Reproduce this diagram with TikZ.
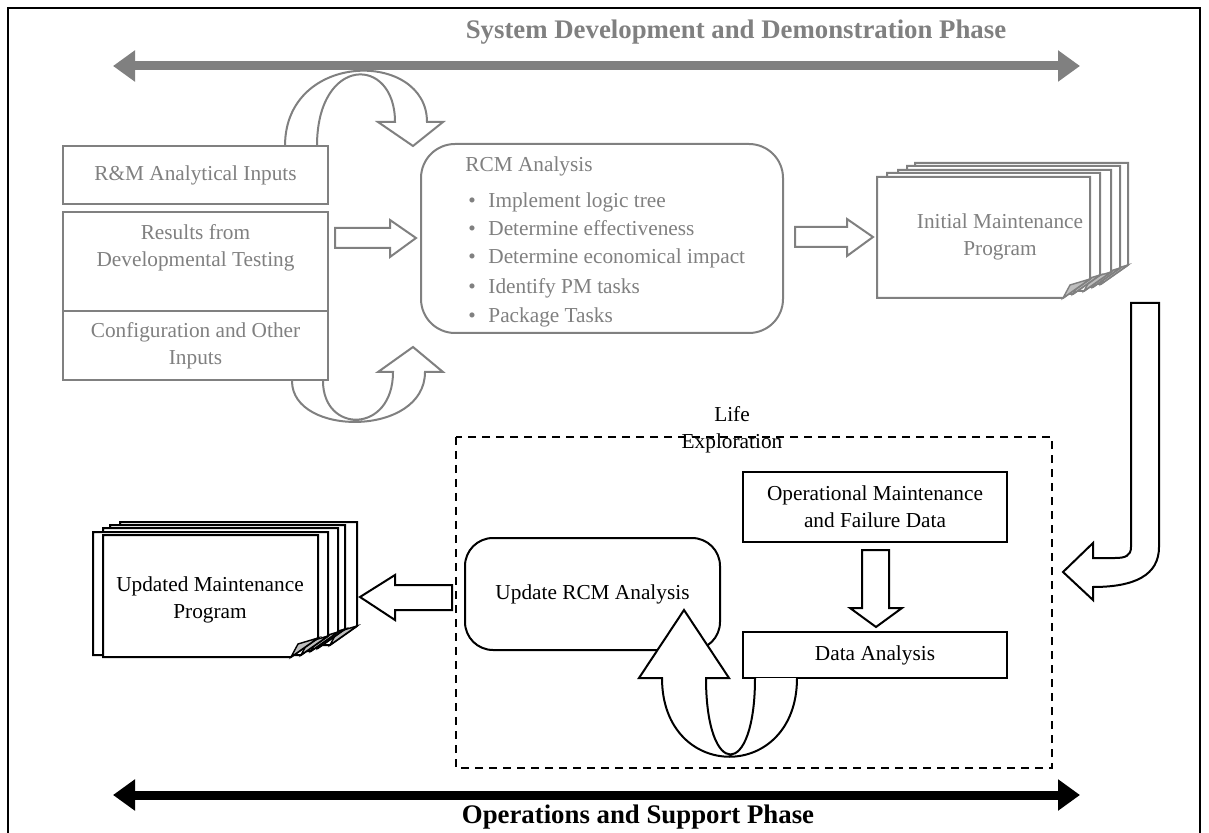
\documentclass[tikz,border=0pt]{standalone}
\usepackage{fontspec}
\setmainfont{Liberation Serif}
\usetikzlibrary{arrows.meta}
\definecolor{gl}{RGB}{128,128,128}
\definecolor{curlc}{RGB}{190,190,190}
\newcommand\nrmsz{\fontsize{10.65}{13.5}\selectfont}
\newcommand\ttlsz{\fontsize{13.4}{16}\selectfont\bfseries}
\newcommand\docpage[5]{%
  \draw[line width=1pt, draw=#5, fill=white] (#1,#2) -- (#3,#2) -- (#3,#4-19) -- (#3-27,#4) -- (#1,#4) -- cycle;
  \draw[line width=0.7pt, draw=#5, fill=curlc] (#3-27,#4) -- (#3,#4-19) -- (#3-20,#4-13) -- cycle;}
\begin{document}
\begin{tikzpicture}[x=0.5pt,y=-0.5pt,
  wh/.style 2 args={minimum width=#1*0.5pt, minimum height=#2*0.5pt, inner sep=0pt},
  gbox/.style={draw=gl, line width=1pt, fill=white, text=gl, font=\nrmsz, align=center},
  bbox/.style={draw=black, line width=1pt, fill=white, text=black, font=\nrmsz, align=center},
  gtext/.style={text=gl, font=\nrmsz, inner sep=0pt, align=center},
  btext/.style={text=black, font=\nrmsz, inner sep=0pt, align=center},
  garrow/.style={draw=gl, line width=1pt, fill=white, line join=miter},
  barrow/.style={draw=black, line width=1pt, fill=white, line join=miter},
  phase/.style={line width=4.5pt, {Triangle[length=11pt,width=15pt]}-{Triangle[length=11pt,width=15pt]}},
  ttl/.style={font=\ttlsz, inner sep=0pt}
]
\useasboundingbox (0,0) rectangle (1209,833);
% frame
\draw[line width=1pt] (8,845) -- (8,8) -- (1200,8) -- (1200,845);

% phase arrows and titles
\node[ttl, text=gl] (t1) at (736,32) {System Development and Demonstration Phase};
\coordinate (p1a) at (113,66); \coordinate (p1b) at (1080,66);
\draw[phase, gl] (p1a) -- (p1b);
\coordinate (p2a) at (113,795); \coordinate (p2b) at (1080,795);
\draw[phase, black] (p2a) -- (p2b);
\node[ttl] (t2) at (638,817) {Operations and Support Phase};

% top curved arrow
\draw[garrow] (285,146) .. controls (285,50) and (427,50) .. (427,122) -- (443,122) -- (413,146) -- (378,122) -- (395,122) .. controls (395,55) and (317,55) .. (317,146);
% bottom curved arrow
\draw[garrow] (292,381) .. controls (292,437) and (425,437) .. (425,372) -- (443,372) -- (413,347) -- (378,372) -- (393,372) .. controls (393,434) and (323,434) .. (323,381);

% left input boxes
\node[gbox, wh={265}{58}] (rm) at (195.5,175) {R\&M Analytical Inputs};
\node[gbox, wh={265}{99}] (res) at (195.5,261.5) {};
\node[gtext] (restxt) at (195.5,248) {Results from\\Developmental Testing};
\node[gbox, wh={265}{69}] (cfg) at (195.5,345.5) {Configuration and Other\\Inputs};

% RCM analysis
\node[gbox, wh={362}{189}, rounded corners=17pt] (rcm) at (602,238.5) {};
\node[gtext, anchor=base west] (rcmt) at (465,172) {RCM Analysis};
\foreach \yy/\tx [count=\i] in {208/Implement logic tree, 236/Determine effectiveness, 264/Determine economical impact, 294/Identify PM tasks, 323/Package Tasks}{
  \node[gtext, anchor=base] (b\i) at (472,\yy) {\textbullet};
  \node[gtext, anchor=base west] (l\i) at (488,\yy) {\tx};
}

% block arrows (gray)
\draw[garrow] (335,228) -- (390,228) -- (390,220) -- (416,238) -- (390,257) -- (390,248) -- (335,248) -- cycle;
\draw[garrow] (795,227) -- (847,227) -- (847,219) -- (873,237) -- (847,256) -- (847,247) -- (795,247) -- cycle;

% initial maintenance program stack
\docpage{915}{163}{1128}{284}{gl}
\docpage{907}{166}{1120}{287}{gl}
\docpage{898}{170}{1111}{291}{gl}
\docpage{887}{173}{1100}{294}{gl}
\docpage{877}{177}{1090}{298}{gl}
\node[gtext] (imp) at (1000,237) {Initial Maintenance\\Program};

% J arrow
\draw[barrow] (1131,303) -- (1131,547) .. controls (1131,556) and (1125,558) .. (1115,558) -- (1093,558) -- (1093,543) -- (1063,572) -- (1093,600) -- (1093,587) .. controls (1135,587) and (1159,575) .. (1159,547) -- (1159,303) -- cycle;

% life exploration
\draw[line width=1pt, dash pattern=on 4pt off 3pt] (456,437) rectangle (1052,768);
\node[btext] (life) at (732,430) {Life\\Exploration};

\node[bbox, wh={264}{70}] (omd) at (875,507) {Operational Maintenance\\and Failure Data};
\draw[barrow] (862,550) -- (889,550) -- (889,608) -- (902,608) -- (876,627) -- (850,608) -- (862,608) -- cycle;
\node[bbox, wh={264}{46}] (da) at (875,655) {Data Analysis};
\node[bbox, wh={255}{112}, rounded corners=14pt] (upd) at (592.5,594) {Update RCM Analysis};

% bottom curved arrow (black)
\draw[barrow] (797,678) .. controls (797,783) and (662,783) .. (662,678) -- (639,678) -- (684,610) -- (729,678) -- (706,678) .. controls (706,780) and (755,780) .. (755,678);

% arrow to updated program
\draw[barrow] (452,585) -- (395,585) -- (395,575) -- (360,597) -- (395,620) -- (395,610) -- (452,610) -- cycle;

% updated stack
\docpage{120}{522}{357}{645}{black}
\docpage{110}{525}{345}{648}{black}
\docpage{103}{528}{338}{651}{black}
\docpage{93}{532}{328}{655}{black}
\docpage{103}{535}{318}{657}{black}
\node[btext] (ump) at (210,600) {Updated Maintenance\\Program};
\end{tikzpicture}
\end{document}
